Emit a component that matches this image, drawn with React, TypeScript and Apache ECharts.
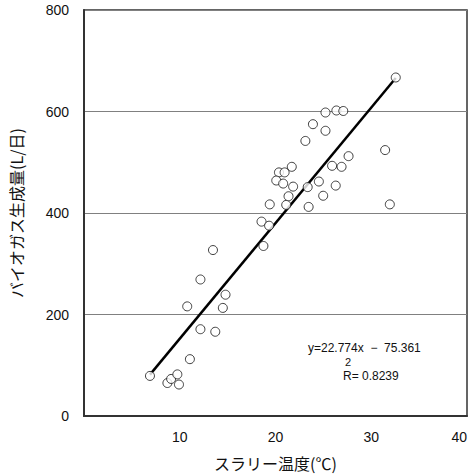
import React, { useEffect, useRef } from "react";
import * as echarts from "echarts";

const xValues = [
  6.89, 8.71, 9.1, 9.75, 9.92, 11.06, 12.16, 13.71, 10.78, 14.5, 14.78, 12.16, 13.47,
  18.74, 18.54, 19.33, 19.4, 21.12, 32.56, 25.22, 26.36, 27.08, 23.91, 25.22, 23.12,
  31.45, 27.63, 25.91, 26.9, 21.7, 20.36, 20.95, 20.08, 20.8, 21.84, 24.53, 23.36,
  26.29, 21.36, 24.98, 23.46, 31.94,
];
const yValues = [
  79, 65, 73, 82, 62, 112, 171, 166, 216, 213, 239, 269, 327,
  335, 383, 375, 417, 416, 667, 598, 602, 601, 575, 562, 542,
  524, 512, 493, 491, 491, 480, 480, 464, 458, 452, 462, 451,
  454, 433, 434, 412, 417,
];
const slope = 22.774;
const intercept = -75.361;
const r2 = 0.8239;
const xTicks = [0, 10, 20, 30, 40];
const yTicks = [0, 200, 400, 600, 800];

const NUM_FONT = "'Liberation Sans', Arial, 'Noto Sans CJK JP', sans-serif";
const JP_FONT = "'Noto Sans CJK JP', 'Liberation Sans', sans-serif";

export default function App() {
  const ref = useRef<HTMLDivElement>(null);
  useEffect(() => {
    document.body.style.margin = "0";
    if (!ref.current) return;
    const chart = echarts.init(ref.current, null, { renderer: "svg" });
    const points = xValues.map((x, i) => [x, yValues[i]]);
    const xmin = Math.min(...xValues);
    const xmax = Math.max(...xValues);
    const line = [
      [xmin, slope * xmin + intercept],
      [xmax, slope * xmax + intercept],
    ];
    chart.setOption({
      animation: false,
      backgroundColor: "#fff",
      grid: {
        left: 80,
        right: 6,
        top: 10,
        bottom: 60,
        show: true,
        borderColor: "#333",
        borderWidth: 1.5,
        backgroundColor: "transparent",
      },
      xAxis: {
        type: "value",
        min: xTicks[0],
        max: xTicks[xTicks.length - 1],
        interval: 10,
        name: "スラリー温度(℃)",
        nameLocation: "middle",
        nameGap: 39,
        nameTextStyle: { fontFamily: JP_FONT, fontSize: 16, color: "#111" },
        axisLine: { show: true, lineStyle: { color: "#333", width: 2 } },
        axisTick: { show: false },
        splitLine: { show: false },
        axisLabel: {
          fontFamily: NUM_FONT,
          fontSize: 14,
          color: "#111",
          margin: 14,
          alignMaxLabel: "right",
          formatter: (v: number) => (v === 0 ? "" : String(v)),
        },
      },
      yAxis: {
        type: "value",
        min: yTicks[0],
        max: yTicks[yTicks.length - 1],
        interval: 200,
        name: "バイオガス生成量(L/日)",
        nameLocation: "middle",
        nameGap: 60,
        nameRotate: 90,
        nameTextStyle: { fontFamily: JP_FONT, fontSize: 16, color: "#111" },
        axisLine: { show: true, lineStyle: { color: "#333", width: 2 } },
        axisTick: { show: false },
        splitLine: { show: true, lineStyle: { color: "#808080", width: 1.2 } },
        axisLabel: { fontFamily: NUM_FONT, fontSize: 14, color: "#111", margin: 15 },
      },
      series: [
        {
          type: "line",
          data: line,
          showSymbol: false,
          lineStyle: { color: "#000", width: 2.5 },
          silent: true,
          z: 2,
        },
        {
          type: "scatter",
          data: points,
          symbol: "circle",
          symbolSize: 9,
          itemStyle: { color: "#fff", borderColor: "#111", borderWidth: 1 },
          z: 3,
        },
      ],
      graphic: [
        {
          type: "text",
          left: 308,
          top: 342,
          style: {
            text: `y=${slope}x  −  ${Math.abs(intercept)}`,
            fontFamily: NUM_FONT,
            fontSize: 12,
            fill: "#111",
          },
        },
        {
          type: "text",
          left: 345,
          top: 356,
          style: {
            text: "2",
            fontFamily: NUM_FONT,
            fontSize: 11,
            fill: "#111",
          },
        },
        {
          type: "text",
          left: 343,
          top: 370,
          style: {
            text: `R= ${r2}`,
            fontFamily: NUM_FONT,
            fontSize: 12,
            fill: "#111",
          },
        },
      ],
    });
    return () => chart.dispose();
  }, []);
  return <div ref={ref} style={{ width: 473, height: 476 }} />;
}
